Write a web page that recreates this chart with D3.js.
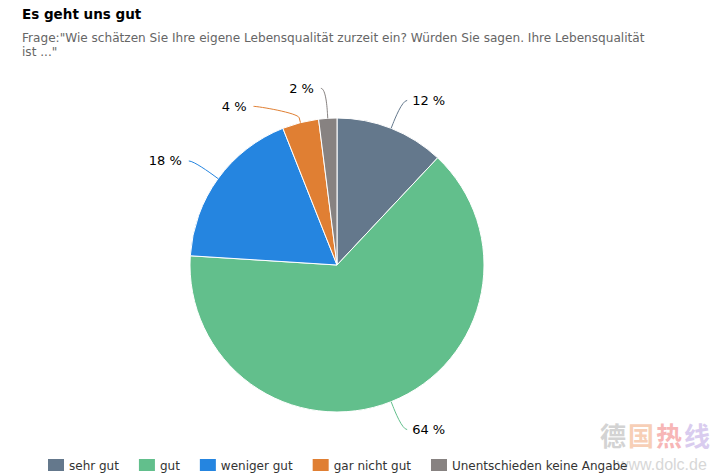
<!DOCTYPE html>
<html>
<head>
<meta charset="utf-8">
<script src="https://cdn.jsdelivr.net/npm/d3@7"></script>
<style>
  html, body { margin: 0; padding: 0; background: #fff; }
  svg { display: block; }
</style>
</head>
<body>
<svg id="chart" width="716" height="475"></svg>
<script>
const categories = ["sehr gut", "gut", "weniger gut", "gar nicht gut", "Unentschieden keine Angabe"];
const values = [12, 64, 18, 4, 2];
const colors = ["#64788c", "#62bf8c", "#2585e0", "#e07f33", "#878281"];
const titleText = "Es geht uns gut";
const subtitleLines = ['Frage:"Wie schätzen Sie Ihre eigene Lebensqualität zurzeit ein? Würden Sie sagen. Ihre Lebensqualität', 'ist ..."'];
const labelSuffix = " %";

const W = 716, H = 475;
const svg = d3.select("#chart");
const font = "'DejaVu Sans', Verdana, sans-serif";

// Title & subtitle
svg.append("text").attr("x", 22).attr("y", 19)
  .attr("font-family", font).attr("font-weight", "bold").attr("font-size", 13.5)
  .attr("fill", "#000").text(titleText);

const sub = svg.append("text").attr("x", 22).attr("y", 42)
  .attr("font-family", font).attr("font-size", 12.1).attr("fill", "#666");
subtitleLines.forEach((l, i) => {
  sub.append("tspan").attr("x", 22).attr("dy", i === 0 ? 0 : 14).text(l);
});

// Pie
const cx = 337, cy = 265, r = 147;
const pie = d3.pie().sort(null).value(d => d.v).startAngle(0).endAngle(2 * Math.PI);
const data = categories.map((c, i) => ({ c, v: values[i], col: colors[i] }));
const arcs = pie(data);
const arc = d3.arc().innerRadius(0).outerRadius(r);

const g = svg.append("g").attr("transform", `translate(${cx},${cy})`);
g.selectAll("path.slice").data(arcs).enter().append("path")
  .attr("class", "slice")
  .attr("d", arc)
  .attr("fill", d => d.data.col)
  .attr("stroke", "#fff").attr("stroke-width", 1).attr("stroke-linejoin", "round");

// Data labels (Highcharts-like placement)
const dist = 30, R = r + dist, minGap = 18;
arcs.forEach(d => {
  d.mid = (d.startAngle + d.endAngle) / 2;
  d.side = Math.sin(d.mid) >= 0 ? 1 : -1;
  d.ly = -R * Math.cos(d.mid);
});
[1, -1].forEach(side => {
  const items = arcs.filter(d => d.side === side).sort((a, b) => a.ly - b.ly);
  for (let i = 1; i < items.length; i++) {
    if (items[i].ly < items[i - 1].ly + minGap) items[i].ly = items[i - 1].ly + minGap;
  }
});
arcs.forEach(d => {
  d.lx = d.side * Math.sqrt(Math.max(0, R * R - d.ly * d.ly));
  const s = Math.sin(d.mid), c = -Math.cos(d.mid);
  const ex = r * s, ey = r * c;
  const p2x = (r + 5) * s, p2y = (r + 5) * c;
  const c2x = 2 * p2x - ex, c2y = 2 * p2y - ey;
  const path = `M${d.lx + d.side * 5},${d.ly} C${d.lx},${d.ly} ${c2x},${c2y} ${p2x},${p2y} L${ex},${ey}`;
  g.append("path").attr("d", path).attr("fill", "none")
    .attr("stroke", d.data.col).attr("stroke-width", 1);
  g.append("text")
    .attr("x", d.lx + d.side * (d.side > 0 ? 10 : 12))
    .attr("y", d.ly + 4.5)
    .attr("text-anchor", d.side > 0 ? "start" : "end")
    .attr("font-family", font).attr("font-size", 13).attr("fill", "#000")
    .text(d.data.v + labelSuffix);
});

// Watermark (faint)
const wm = svg.append("g").attr("opacity", 0.5);
const wmChars = ["德", "国", "热", "线"];
const wmCols = ["#a8a8a8", "#f0a070", "#f07070", "#b49ae0"];
wmChars.forEach((ch, i) => {
  wm.append("text").attr("x", 600 + i * 28).attr("y", 446)
    .attr("font-family", "'Noto Sans CJK SC', sans-serif").attr("font-weight", "bold")
    .attr("font-size", 26).attr("fill", wmCols[i]).text(ch);
});
wm.append("text").attr("x", 617).attr("y", 470)
  .attr("font-family", "'Liberation Sans', Arial, sans-serif").attr("font-size", 16)
  .attr("fill", "#b0b0b0").text("www.dolc.de");

// Legend
const legend = svg.append("g");
let lx = 48;
const ly = 459;
categories.forEach((c, i) => {
  const it = legend.append("g").attr("transform", `translate(${lx},${ly})`);
  it.append("rect").attr("x", 0).attr("y", 0).attr("width", 16).attr("height", 12)
    .attr("rx", 0).attr("fill", colors[i]);
  const t = it.append("text").attr("x", 21).attr("y", 10.5)
    .attr("font-family", font).attr("font-size", 12).attr("fill", "#333").text(c);
  lx += 21 + t.node().getComputedTextLength() + 20;
});
</script>
</body>
</html>
